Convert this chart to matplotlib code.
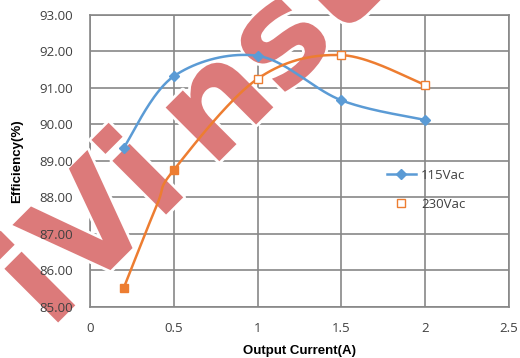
import numpy as np
import matplotlib.pyplot as plt
import matplotlib.patheffects as pe

current = [0.2, 0.5, 1.0, 1.5, 2.0]
eff_115 = [89.35, 91.32, 91.88, 90.66, 90.12]
eff_230 = [85.50, 88.75, 91.25, 91.90, 91.08]

# extra knee point on the 230Vac trace (no marker drawn there)
line_230_x = [0.2, 0.4, 0.5, 1.0, 1.5, 2.0]
line_230_y = [85.50, 87.80, 88.75, 91.25, 91.90, 91.08]

yticks = [85, 86, 87, 88, 89, 90, 91, 92, 93]
xticks = [0, 0.5, 1, 1.5, 2, 2.5]

GRID = "#878787"
BLUE = "#5b9bd5"
ORANGE = "#ed7d31"
TXT = "#404040"


def smooth(xs, ys, n=40):
    # Bezier smoothing like a spreadsheet "smoothed line"
    p = np.column_stack([xs, ys]).astype(float)
    p = np.vstack([p[0], p, p[-1]])
    out = []
    for i in range(1, len(p) - 2):
        p0, p1, p2, p3 = p[i - 1], p[i], p[i + 1], p[i + 2]
        c1 = p1 + (p2 - p0) / 6
        c2 = p2 - (p3 - p1) / 6
        t = np.linspace(0, 1, n)[:, None]
        seg = ((1 - t) ** 3) * p1 + 3 * ((1 - t) ** 2) * t * c1 + 3 * (1 - t) * t ** 2 * c2 + t ** 3 * p2
        out.append(seg)
    out = np.vstack(out)
    return out[:, 0], out[:, 1]


fig = plt.figure(figsize=(5.2, 3.58), dpi=100)
ax = fig.add_axes([0.1731, 0.1433, 0.8057, 0.8148])

ax.set_xlim(0, 2.5)
ax.set_ylim(85, 93)
ax.set_xticks(xticks)
ax.set_xticklabels(["0", "0.5", "1", "1.5", "2", "2.5"])
ax.set_yticks(yticks)
ax.set_yticklabels([f"{v:.2f}" for v in yticks])
ax.tick_params(axis="y", length=0, labelsize=9.5, colors=TXT, pad=12)
ax.tick_params(axis="x", length=0, labelsize=9.5, colors=TXT, pad=11)
for lab in ax.get_xticklabels() + ax.get_yticklabels():
    lab.set_fontfamily("Open Sans")

# grid drawn by hand so it sits under the watermark while tick labels stay on top
for v in yticks:
    ax.axhline(v, color=GRID, linewidth=1.2, zorder=0.8)
for v in xticks:
    ax.axvline(v, color=GRID, linewidth=1.2, zorder=0.8)
for s in ax.spines.values():
    s.set_color(GRID)
    s.set_linewidth(1.2)
    s.set_zorder(0.9)

ax.set_xlabel("Output Current(A)", fontsize=9.5, fontweight="bold",
              family="Liberation Sans", labelpad=7)
ax.set_ylabel("Efficiency(%)", fontsize=9.5, fontweight="bold",
              family="Liberation Sans", labelpad=12)

# watermark
ax.text(0.367, 0.622, "iVi\u2009nst", transform=fig.transFigure, fontsize=100,
        fontweight="bold", color="#dc7a7a", family="DejaVu Sans", rotation=45,
        ha="center", va="center", zorder=1.5, clip_on=False,
        path_effects=[pe.withStroke(linewidth=4, foreground="white")])

bx, by = smooth(current, eff_115)
ax.plot(bx, by, color=BLUE, linewidth=1.8, zorder=3)
ax.plot(current, eff_115, linestyle="none", marker="D", markersize=5,
        color=BLUE, zorder=4)

ox, oy = smooth(line_230_x, line_230_y)
ax.plot(ox, oy, color=ORANGE, linewidth=1.8, zorder=3)
ax.plot(current[:2], eff_230[:2], linestyle="none", marker="s", markersize=6,
        color=ORANGE, zorder=4)
ax.plot(current[2:], eff_230[2:], linestyle="none", marker="s", markersize=6,
        markerfacecolor="white", markeredgecolor=ORANGE, markeredgewidth=1,
        zorder=4)

h1 = plt.Line2D([], [], color=BLUE, linewidth=1.8, marker="D", markersize=5)
h2 = plt.Line2D([], [], linestyle="none", marker="s", markersize=6,
                markerfacecolor="white", markeredgecolor=ORANGE)
leg = ax.legend([h1, h2], ["115Vac", "230Vac"], loc="center left",
                bbox_to_anchor=(0.68, 0.40), frameon=False, fontsize=9.5,
                handlelength=2.2, labelspacing=1.2, handletextpad=0.4)
leg.set_zorder(5)
for t in leg.get_texts():
    t.set_color(TXT)
    t.set_fontfamily("Open Sans")

fig.savefig("out.png", dpi=100)
